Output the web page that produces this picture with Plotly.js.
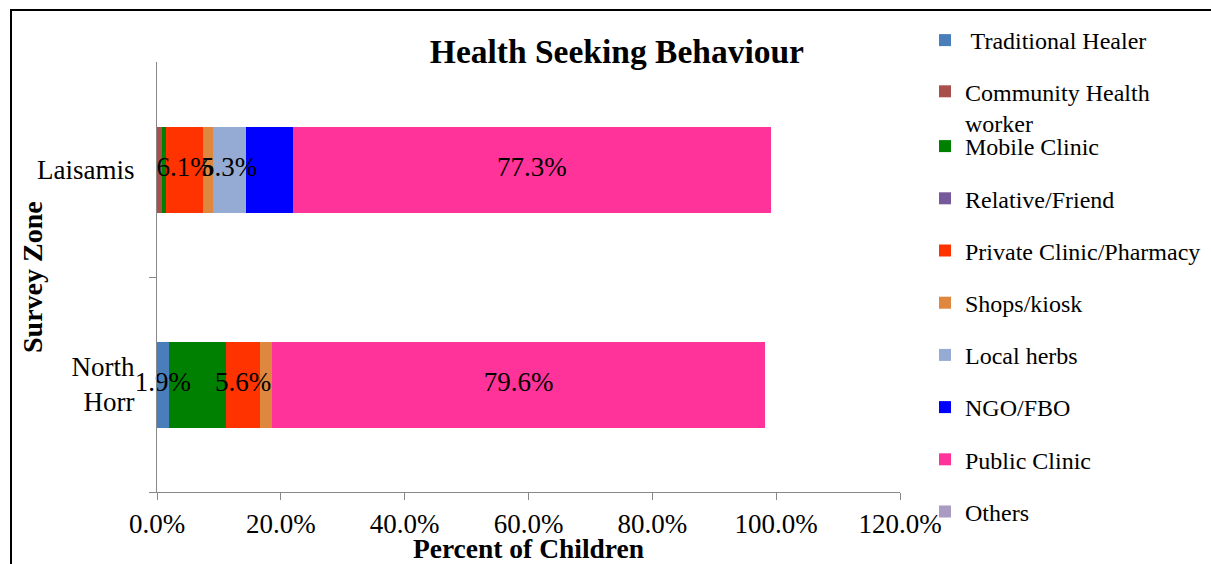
<!DOCTYPE html>
<html>
<head>
<meta charset="utf-8">
<script src="https://cdn.plot.ly/plotly-3.0.1.min.js"></script>
<style>html,body{margin:0;padding:0;background:#fff;}#chart{width:1211px;height:564px;}</style>
</head>
<body>
<div id="chart"></div>
<script>
const zones = ['Laisamis', 'North Horr'];
const zoneTickLabels = ['Laisamis', 'North<br>Horr'];
const xTickVals = [0, 20, 40, 60, 80, 100, 120];

const seriesNames = [' Traditional Healer', 'Community Health<br>worker', 'Mobile Clinic', 'Relative/Friend',
  'Private Clinic/Pharmacy', 'Shops/kiosk', 'Local herbs', 'NGO/FBO', 'Public Clinic', 'Others'];

const traditionalHealer = [0, 1.9];
const communityHealthWorker = [0.8, 0];
const mobileClinic = [0.6, 9.2];
const relativeFriend = [0, 0];
const privateClinic = [6.1, 5.6];
const shopsKiosk = [1.5, 1.9];
const localHerbs = [5.3, 0];
const ngoFbo = [7.6, 0];
const publicClinic = [77.3, 79.6];
const others = [0, 0];

// which bar segments carry a data label (per zone)
const traditionalHealerLabel = [false, true];
const privateClinicLabel = [true, true];
const localHerbsLabel = [true, false];
const publicClinicLabel = [true, true];

const seriesValues = [traditionalHealer, communityHealthWorker, mobileClinic, relativeFriend,
  privateClinic, shopsKiosk, localHerbs, ngoFbo, publicClinic, others];
const seriesLabels = [traditionalHealerLabel, null, null, null, privateClinicLabel, null,
  localHerbsLabel, null, publicClinicLabel, null];
const seriesColors = ['#4A7EBB', '#A9504C', '#008000', '#76599A', '#FF3300', '#DF873F',
  '#95ABD3', '#0000FF', '#FF3399', '#A99BC2'];

const serif = 'Liberation Serif, Times New Roman, serif';

const traces = seriesNames.map((name, i) => ({
  type: 'bar',
  orientation: 'h',
  name: name,
  x: seriesValues[i],
  y: zones,
  marker: {color: seriesColors[i], line: {width: 0}},
  hoverinfo: 'x+name',
  legend: i < 2 ? 'legend' : 'legend2',
  legendgroup: 'g' + i,
  showlegend: true
}));

// data labels drawn on top of all bars, at the middle of their segment
const labelX = [], labelY = [], labelText = [];
zones.forEach((z, j) => {
  let cum = 0;
  seriesValues.forEach((vals, i) => {
    const v = vals[j];
    const lab = seriesLabels[i];
    if (lab && lab[j]) {
      labelX.push(cum + v / 2);
      labelY.push(z);
      labelText.push(v.toFixed(1) + '%');
    }
    cum += v;
  });
});
traces.push({
  type: 'scatter', mode: 'text',
  x: labelX, y: labelY, text: labelText,
  textposition: 'middle center',
  textfont: {family: serif, size: 27, color: '#000'},
  cliponaxis: false, showlegend: false, hoverinfo: 'skip'
});

const legendBase = {
  xref: 'container', yref: 'container',
  xanchor: 'left', yanchor: 'top',
  font: {family: serif, size: 24, color: '#000'},
  bgcolor: 'rgba(0,0,0,0)',
  borderwidth: 0,
  traceorder: 'grouped',
  tracegroupgap: 18,
  valign: 'top',
  maxheight: 560
};

const layout = {
  width: 1211, height: 564,
  margin: {l: 157, r: 311, t: 62, b: 72},
  paper_bgcolor: '#fff', plot_bgcolor: '#fff',
  barmode: 'stack',
  bargap: 0.6,
  showlegend: true,
  title: {
    text: '<b>Health Seeking Behaviour</b>',
    font: {family: serif, size: 33.5, color: '#000'},
    xref: 'paper', x: 0.619, xanchor: 'center',
    yref: 'container', y: 0.909, yanchor: 'middle'
  },
  xaxis: {
    range: [0, 120],
    tickmode: 'array', tickvals: xTickVals,
    ticktext: xTickVals.map(v => v.toFixed(1) + '%'),
    showgrid: false, zeroline: false,
    showline: true, linecolor: '#888', linewidth: 1.3,
    ticks: 'outside', ticklen: 7, tickcolor: '#888', tickwidth: 1.3,
    tickfont: {family: serif, size: 27, color: '#000'},
    title: {text: '<b>Percent of Children</b>', font: {family: serif, size: 27.5, color: '#000'}, standoff: 1}
  },
  yaxis: {
    type: 'category',
    categoryorder: 'array', categoryarray: zones.slice().reverse(),
    range: [-0.5, 1.5],
    tickmode: 'array', tickvals: zones, ticktext: zoneTickLabels,
    tickson: 'boundaries',
    showgrid: false, zeroline: false,
    showline: true, linecolor: '#888', linewidth: 1.3,
    ticks: 'outside', ticklen: 7, tickcolor: '#888', tickwidth: 1.3,
    ticklabelstandoff: 16,
    tickfont: {family: serif, size: 27, color: '#000'}
  },
  annotations: [{
    text: '<b>Survey Zone</b>', textangle: -90,
    xref: 'paper', yref: 'paper',
    x: (32 - 157) / 743, y: 0.5, xanchor: 'center', yanchor: 'middle',
    showarrow: false,
    font: {family: serif, size: 28, color: '#000'}
  }],
  legend: Object.assign({}, legendBase, {x: 925 / 1211, y: 1 - 18 / 564, tracegroupgap: 17}),
  legend2: Object.assign({}, legendBase, {x: 925 / 1211, y: 1 - 124 / 564}),
  shapes: [{
    type: 'rect', xref: 'paper', yref: 'paper',
    x0: (11 - 157) / 743, x1: (1230 - 157) / 743,
    y0: (492 - 600) / 430, y1: (492 - 10) / 430,
    line: {color: '#000', width: 2}, fillcolor: 'rgba(0,0,0,0)', layer: 'above'
  }]
};

Plotly.newPlot('chart', traces, layout, {displayModeBar: false, responsive: false});
</script>
</body>
</html>
